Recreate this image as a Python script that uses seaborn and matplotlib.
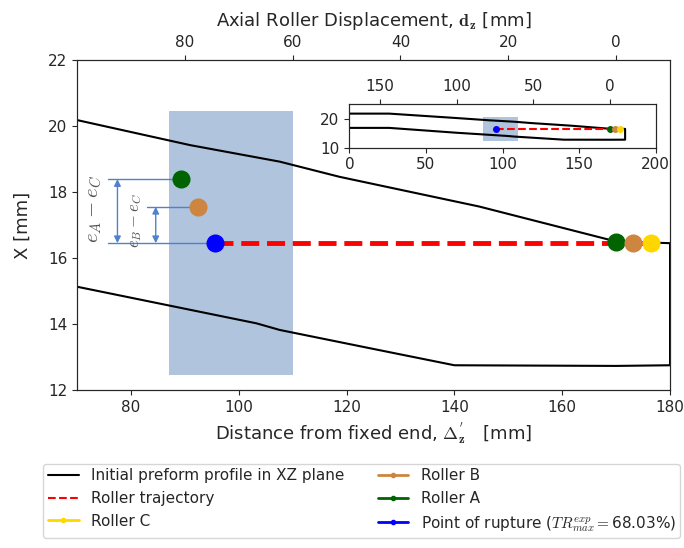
import numpy as np
import pandas as pd
import matplotlib
matplotlib.use("Agg")
import matplotlib.pyplot as plt
from matplotlib.lines import Line2D
from matplotlib.patches import Rectangle
import seaborn as sns

# ---------------- data ----------------
upper_x = [0, 26, 70, 91, 107.6, 118.7, 144.6, 170, 180]
upper_y = [21.7, 21.7, 20.18, 19.42, 18.92, 18.46, 17.56, 16.5, 16.45]
lower_x = [0, 26, 70, 92.8, 103.3, 107.6, 123.6, 140, 170, 180]
lower_y = [16.8, 16.8, 15.13, 14.37, 14.02, 13.82, 13.29, 12.75, 12.73, 12.75]

rupture_x, rupture_y = 95.6, 16.45
traj_x = [95.6, 176.5]
traj_y = [16.45, 16.45]

roller_names = ["Roller A", "Roller B", "Roller C"]
roller_x_end = [170.0, 173.1, 176.5]
roller_y_end = [16.5, 16.45, 16.45]
roller_x_shift = [89.3, 92.4]       # shifted markers at left (A, B)
roller_y_shift = [18.39, 17.55]

zone_x = [87.0, 110.0]
zone_y = [12.45, 20.45]

top_ticks = [80, 60, 40, 20, 0]
inset_top_ticks = [150, 100, 50, 0]
dz_origin = 170.0

colors = {"Roller A": "darkgreen", "Roller B": "peru", "Roller C": "gold"}

# profile as a single path (upper -> right end -> lower reversed)
prof_x = upper_x + lower_x[::-1]
prof_y = upper_y + lower_y[::-1]
profile = pd.DataFrame({"x": prof_x, "y": prof_y})

# ---------------- style ----------------
sns.set_style("ticks")
plt.rcParams["font.family"] = ["DejaVu Sans"]
plt.rcParams["mathtext.fontset"] = "cm"

fig = plt.figure(figsize=(6.84, 5.48), dpi=100)
ax = fig.add_axes([0.1126, 0.2883, 0.867, 0.6022])

ax.add_patch(Rectangle((zone_x[0], zone_y[0]), zone_x[1] - zone_x[0], zone_y[1] - zone_y[0],
                       facecolor="lightsteelblue", edgecolor="none", zorder=0))
sns.lineplot(data=profile, x="x", y="y", sort=False, estimator=None, color="black",
             lw=1.5, ax=ax, zorder=2)
ax.plot(traj_x, traj_y, color="red", ls="--", lw=3.5, zorder=3)

annot_c = "#4f81d0"
# horizontal guide lines
ax.plot([75.8, roller_x_shift[0]], [roller_y_shift[0]] * 2, color=annot_c, lw=1, zorder=3)
ax.plot([82.9, roller_x_shift[1]], [roller_y_shift[1]] * 2, color=annot_c, lw=1, zorder=3)
ax.plot([75.8, rupture_x], [rupture_y] * 2, color=annot_c, lw=1, zorder=3)
ax.annotate("", xy=(77.5, roller_y_shift[0]), xytext=(77.5, rupture_y),
            arrowprops=dict(arrowstyle="<|-|>", color=annot_c, lw=1, mutation_scale=10,
                            shrinkA=0, shrinkB=0))
ax.annotate("", xy=(84.6, roller_y_shift[1]), xytext=(84.6, rupture_y),
            arrowprops=dict(arrowstyle="<|-|>", color=annot_c, lw=1, mutation_scale=10,
                            shrinkA=0, shrinkB=0))
ax.text(73.2, 17.5, r"$e_A - e_C$", rotation=90, ha="center", va="center",
        fontsize=15, color="#555555")
ax.text(80.8, 17.15, r"$e_B - e_C$", rotation=90, ha="center", va="center",
        fontsize=12, color="#555555")

ms = 12
ax.plot(roller_x_shift[0], roller_y_shift[0], "o", color=colors["Roller A"], ms=ms, zorder=5)
ax.plot(roller_x_shift[1], roller_y_shift[1], "o", color=colors["Roller B"], ms=ms, zorder=5)
ax.plot(rupture_x, rupture_y, "o", color="blue", ms=ms, zorder=5)
for n, xx, yy in zip(roller_names, roller_x_end, roller_y_end):
    ax.plot(xx, yy, "o", color=colors[n], ms=ms, zorder=5)

ax.set_xlim(70, 180)
ax.set_ylim(12, 22)
ax.set_xticks([80, 100, 120, 140, 160, 180])
ax.set_yticks([12, 14, 16, 18, 20, 22])
ax.tick_params(labelsize=11)
ax.set_xlabel(r"Distance from fixed end, $\mathbf{\Delta_z^{'}}$   [mm]", fontsize=13)
ax.set_ylabel("X [mm]", fontsize=13, labelpad=12)

axt = ax.twiny()
axt.set_xlim(dz_origin - 70, dz_origin - 180)
axt.set_xticks(top_ticks)
axt.tick_params(labelsize=11)
axt.set_xlabel(r"Axial Roller Displacement, $\mathbf{d_z}$ [mm]", fontsize=13, labelpad=7)

# ---------------- inset ----------------
axi = fig.add_axes([0.5107, 0.7305, 0.448, 0.0797])
axi.add_patch(Rectangle((zone_x[0], zone_y[0]), zone_x[1] - zone_x[0], zone_y[1] - zone_y[0],
                        facecolor="lightsteelblue", edgecolor="none", zorder=0))
sns.lineplot(data=profile, x="x", y="y", sort=False, estimator=None, color="black",
             lw=1.5, ax=axi, zorder=2)
axi.plot(traj_x, traj_y, color="red", ls="--", lw=1.5, zorder=3)
axi.plot(rupture_x, rupture_y, "o", color="blue", ms=4, zorder=5)
for n, xx, yy in zip(roller_names, roller_x_end, roller_y_end):
    axi.plot(xx, yy, "o", color=colors[n], ms=4, zorder=5)
axi.set_xlim(0, 200)
axi.set_ylim(10, 25)
axi.set_yticks([10, 20])
axi.set_xticks([0, 50, 100, 150, 200])
axi.set_xlabel("")
axi.set_ylabel("")
axi.tick_params(labelsize=11)
axit = axi.twiny()
axit.set_xlim(dz_origin - 0, dz_origin - 200)
axit.set_xticks(inset_top_ticks)
axit.tick_params(labelsize=11)

# ---------------- legend ----------------
handles = [
    Line2D([], [], color="black", lw=1.5, label="Initial preform profile in XZ plane"),
    Line2D([], [], color="red", lw=1.5, ls="--", label="Roller trajectory"),
    Line2D([], [], color=colors["Roller C"], lw=2, marker=".", label="Roller C"),
    Line2D([], [], color=colors["Roller B"], lw=2, marker=".", label="Roller B"),
    Line2D([], [], color=colors["Roller A"], lw=2, marker=".", label="Roller A"),
    Line2D([], [], color="blue", lw=2, marker=".",
           label=r"Point of rupture ($TR_{max}^{exp}=$68.03%)"),
]
fig.legend(handles=handles, loc="lower center", bbox_to_anchor=(0.529, 0.004), ncol=2,
           fontsize=11, frameon=True, columnspacing=2.2, borderpad=0.3)

fig.savefig("out.png", dpi=100)
